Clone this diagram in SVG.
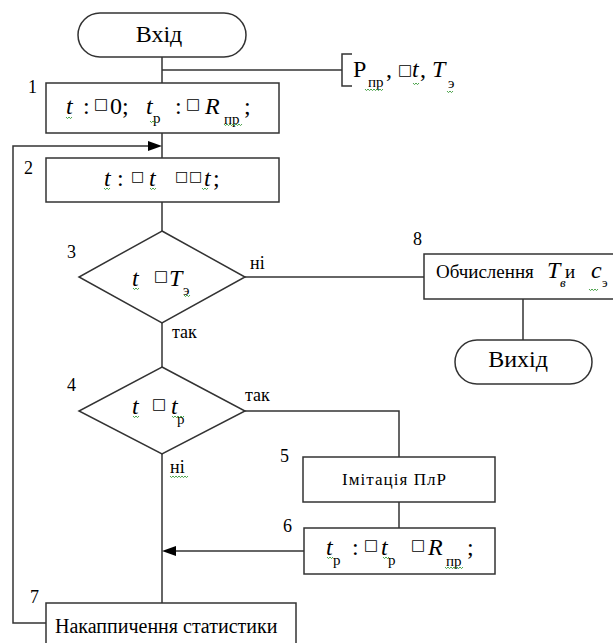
<svg xmlns="http://www.w3.org/2000/svg" width="613" height="643" viewBox="0 0 613 643">
<g id="connectors" fill="none" stroke="#333" stroke-width="1.5">
<path d="M162,57 V83"/>
<path d="M162,70 H342"/>
<path d="M162,133 V158"/>
<path d="M162,202 V231"/>
<path d="M245,277 H424"/>
<path d="M523,299 V340"/>
<path d="M162,323 V367"/>
<path d="M245,411 H399 V457"/>
<path d="M399,502 V528"/>
<path d="M304,551 H170"/>
<path d="M162,454 V603"/>
<path d="M46,623 H13 V146 H154"/>
<polygon points="148,141 162,146 148,151" fill="#000" stroke="none"/>
<polygon points="176,546 162,551 176,556" fill="#000" stroke="none"/>
</g>

<g id="start">
<rect x="78" y="13" width="168" height="44" rx="22" ry="22" fill="#fff" stroke="#333" stroke-width="1.5"/>
<text font-family="Liberation Serif" x="159" y="42" font-size="24" text-anchor="middle">Вхід</text>
</g>

<g id="params">
<path d="M352,54 H342 V86 H352" fill="none" stroke="#333" stroke-width="1.5"/>
<text font-family="Liberation Serif" font-size="24"><tspan x="353" y="77">P</tspan><tspan font-size="15" x="368" y="87">пр</tspan><tspan x="386" y="77">,</tspan><tspan font-style="italic" x="412" y="77">t</tspan><tspan x="420" y="77">,</tspan><tspan font-style="italic" x="432" y="77">T</tspan><tspan font-size="15" x="448" y="88">э</tspan></text>
<text font-family="DejaVu Sans" font-size="15" x="398" y="75">□</text>
<path fill="none" stroke="#3a9a3a" stroke-width="0.9" d="M365,89 l1.5,1.6 l1.5,-1.6 l1.5,1.6 l1.5,-1.6 l1.5,1.6 l1.5,-1.6 l1.5,1.6 l1.5,-1.6 l1.5,1.6 l1.5,-1.6 l1.5,1.6 l1.5,-1.6 M413,83 l1.5,1.6 l1.5,-1.6 l1.5,1.6 l1.5,-1.6 M447,91 l1.5,1.6 l1.5,-1.6 l1.5,1.6 l1.5,-1.6"/>
</g>

<g id="n1">
<text font-family="Liberation Serif" font-size="18" x="28" y="93">1</text>
<rect x="46" y="83" width="233" height="50" fill="#fff" stroke="#333" stroke-width="1.5"/>
<text font-family="Liberation Serif" font-size="24"><tspan font-style="italic" x="66" y="114">t</tspan><tspan x="83" y="114">:</tspan><tspan x="110" y="114">0;</tspan><tspan font-style="italic" x="146" y="114">t</tspan><tspan font-size="15" x="153" y="123">р</tspan><tspan x="175" y="114">:</tspan><tspan font-style="italic" x="205" y="114">R</tspan><tspan font-size="15" x="224" y="124">пр</tspan><tspan x="244" y="114">;</tspan></text>
<text font-family="DejaVu Sans" font-size="15"><tspan x="94" y="109">□</tspan><tspan x="186" y="109">□</tspan></text>
<path fill="none" stroke="#3a9a3a" stroke-width="0.9" d="M66,117 l1.5,1.6 l1.5,-1.6 l1.5,1.6 l1.5,-1.6 M150,121 l1.5,1.6 l1.5,-1.6 l1.5,1.6 l1.5,-1.6 M224,124 l1.5,1.6 l1.5,-1.6 l1.5,1.6 l1.5,-1.6 l1.5,1.6 l1.5,-1.6 l1.5,1.6 l1.5,-1.6 l1.5,1.6 l1.5,-1.6 l1.5,1.6 l1.5,-1.6"/>
</g>

<g id="n2">
<text font-family="Liberation Serif" font-size="18" x="24" y="174">2</text>
<rect x="46" y="158" width="233" height="44" fill="#fff" stroke="#333" stroke-width="1.5"/>
<text font-family="Liberation Serif" font-size="24"><tspan font-style="italic" x="104" y="186">t</tspan><tspan x="117" y="186">:</tspan><tspan font-style="italic" x="149" y="186">t</tspan><tspan font-style="italic" x="204" y="186">t</tspan><tspan x="213" y="186">;</tspan></text>
<text font-family="DejaVu Sans" font-size="14"><tspan x="131" y="181">□</tspan><tspan x="175" y="181">□</tspan><tspan x="189" y="181">□</tspan></text>
<path fill="none" stroke="#3a9a3a" stroke-width="0.9" d="M104,188 l1.5,1.6 l1.5,-1.6 l1.5,1.6 l1.5,-1.6 M150,188 l1.5,1.6 l1.5,-1.6 l1.5,1.6 l1.5,-1.6 M202,188 l1.5,1.6 l1.5,-1.6 l1.5,1.6 l1.5,-1.6"/>
</g>

<g id="n3">
<text font-family="Liberation Serif" font-size="18" x="67" y="258">3</text>
<polygon points="162,231 245,277 162,323 79,277" fill="#fff" stroke="#333" stroke-width="1.5"/>
<text font-family="Liberation Serif" font-size="24"><tspan font-style="italic" x="132" y="286">t</tspan><tspan font-style="italic" x="169" y="286">T</tspan><tspan font-size="15" x="183" y="295">э</tspan></text>
<text font-family="DejaVu Sans" font-size="15" x="154" y="281">□</text>
<path fill="none" stroke="#3a9a3a" stroke-width="0.9" d="M133,288 l1.5,1.6 l1.5,-1.6 l1.5,1.6 l1.5,-1.6 M184,295 l1.5,1.6 l1.5,-1.6 l1.5,1.6 l1.5,-1.6"/>
<text font-family="Liberation Serif" font-size="18" x="250" y="269">ні</text>
<text font-family="Liberation Serif" font-size="18" x="172" y="338">так</text>
</g>

<g id="n8">
<text font-family="Liberation Serif" font-size="18" x="413" y="245">8</text>
<rect x="424" y="254" width="220" height="45" fill="#fff" stroke="#333" stroke-width="1.5"/>
<text font-family="Liberation Serif" font-size="19"><tspan x="436" y="278">Обчислення</tspan><tspan font-style="italic" font-size="24" x="547" y="278">T</tspan><tspan font-style="italic" font-size="13" x="560" y="287">в</tspan><tspan x="565" y="278">и</tspan><tspan font-style="italic" font-size="24" x="591" y="278">c</tspan><tspan font-size="13" x="602" y="287">э</tspan></text>
<path fill="none" stroke="#3a9a3a" stroke-width="0.9" d="M589,289 l1.5,1.6 l1.5,-1.6 l1.5,1.6 l1.5,-1.6 l1.5,1.6 l1.5,-1.6"/>
</g>

<g id="end">
<rect x="455" y="340" width="137" height="44" rx="22" ry="22" fill="#fff" stroke="#333" stroke-width="1.5"/>
<text font-family="Liberation Serif" x="518" y="367" font-size="24" text-anchor="middle">Вихід</text>
</g>

<g id="n4">
<text font-family="Liberation Serif" font-size="18" x="67" y="391">4</text>
<polygon points="162,367 245,411 162,454 79,411" fill="#fff" stroke="#333" stroke-width="1.5"/>
<text font-family="Liberation Serif" font-size="24"><tspan font-style="italic" x="132" y="414">t</tspan><tspan font-style="italic" x="171" y="414">t</tspan><tspan font-size="15" x="177" y="424">р</tspan></text>
<text font-family="DejaVu Sans" font-size="15" x="152" y="409">□</text>
<path fill="none" stroke="#3a9a3a" stroke-width="0.9" d="M133,416 l1.5,1.6 l1.5,-1.6 l1.5,1.6 l1.5,-1.6 M172,416 l1.5,1.6 l1.5,-1.6 l1.5,1.6 l1.5,-1.6 l1.5,1.6 l1.5,-1.6 l1.5,1.6 l1.5,-1.6"/>
<text font-family="Liberation Serif" font-size="18" x="245" y="401">так</text>
<text font-family="Liberation Serif" font-size="18" x="170" y="473">ні</text>
<path fill="none" stroke="#3a9a3a" stroke-width="0.9" d="M170,476 l1.5,1.6 l1.5,-1.6 l1.5,1.6 l1.5,-1.6 l1.5,1.6 l1.5,-1.6 l1.5,1.6 l1.5,-1.6 l1.5,1.6 l1.5,-1.6 l1.5,1.6 l1.5,-1.6"/>
</g>

<g id="n5">
<text font-family="Liberation Serif" font-size="18" x="280" y="462">5</text>
<rect x="303" y="457" width="192" height="45" fill="#fff" stroke="#333" stroke-width="1.5"/>
<text font-family="Liberation Serif" x="342" y="485" font-size="17" textLength="104">Імітація ПлР</text>
</g>

<g id="n6">
<text font-family="Liberation Serif" font-size="18" x="283" y="532">6</text>
<rect x="304" y="528" width="191" height="46" fill="#fff" stroke="#333" stroke-width="1.5"/>
<text font-family="Liberation Serif" font-size="24"><tspan font-style="italic" x="326" y="555">t</tspan><tspan font-size="15" x="333" y="565">р</tspan><tspan x="352" y="555">:</tspan><tspan font-style="italic" x="381" y="555">t</tspan><tspan font-size="15" x="388" y="565">р</tspan><tspan font-style="italic" x="428" y="555">R</tspan><tspan font-size="15" x="446" y="566">пр</tspan><tspan x="467" y="555">;</tspan></text>
<text font-family="DejaVu Sans" font-size="15"><tspan x="364" y="550">□</tspan><tspan x="411" y="550">□</tspan></text>
<path fill="none" stroke="#3a9a3a" stroke-width="0.9" d="M327,557 l1.5,1.6 l1.5,-1.6 l1.5,1.6 l1.5,-1.6 M383,557 l1.5,1.6 l1.5,-1.6 l1.5,1.6 l1.5,-1.6 M445,567 l1.5,1.6 l1.5,-1.6 l1.5,1.6 l1.5,-1.6 l1.5,1.6 l1.5,-1.6 l1.5,1.6 l1.5,-1.6 l1.5,1.6 l1.5,-1.6 l1.5,1.6 l1.5,-1.6"/>
</g>

<g id="n7">
<text font-family="Liberation Serif" font-size="18" x="30" y="603">7</text>
<rect x="46" y="603" width="250" height="60" fill="#fff" stroke="#333" stroke-width="1.5"/>
<text font-family="Liberation Serif" x="55" y="633" font-size="20">Накаппичення статистики</text>
</g>
</svg>
